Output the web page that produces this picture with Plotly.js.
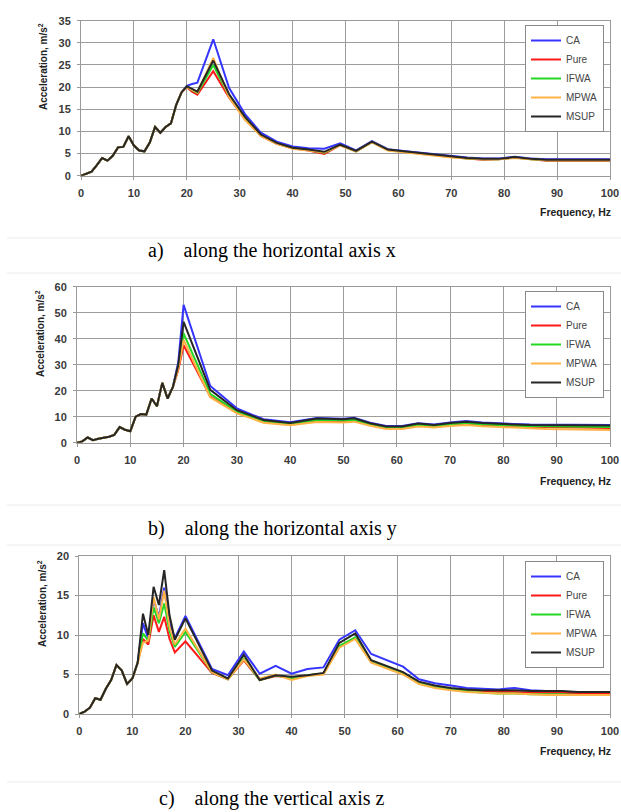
<!DOCTYPE html>
<html>
<head>
<meta charset="utf-8">
<script src="https://cdn.plot.ly/plotly-3.0.1.min.js"></script>
<style>html,body{margin:0;padding:0;background:#fff;}#chart{width:621px;height:812px;}</style>
</head>
<body>
<div id="chart"></div>
<script>
// ---------- data ----------
const seriesNames = ["CA", "Pure", "IFWA", "MPWA", "MSUP"];
const seriesColors = ["#3535ff", "#ff1a1a", "#22d822", "#ffb347", "#262626"];

// a) along the horizontal axis x
const freqA = [0,1,2,3,4,5,6,7,8,9,10,11,12,13,14,15,16,17,18,19,20,21,22,25,28,31,34,37,40,43,46,49,52,55,58,61,64,67,70,73,76,79,82,85,88,91,94,97,100];
const caA   = [0,0.4,0.9,2.4,4.0,3.4,4.5,6.4,6.5,8.9,6.8,5.7,5.5,7.5,11.0,9.7,11.0,11.8,16.0,18.8,20.3,20.7,21.0,30.8,19.8,13.9,9.7,7.7,6.6,6.2,6.1,7.3,5.7,7.8,6.0,5.6,5.2,4.8,4.4,4.1,3.9,3.9,4.3,3.9,3.7,3.7,3.7,3.7,3.7];
const pureA = [0,0.4,0.9,2.4,4.0,3.4,4.5,6.4,6.5,8.9,6.8,5.7,5.5,7.5,11.0,9.7,11.0,11.8,16.0,18.8,20.0,19.0,18.3,23.6,17.6,12.8,9.0,7.2,6.2,5.7,4.9,6.9,5.5,7.6,5.8,5.4,5.0,4.6,4.2,3.9,3.6,3.7,4.1,3.7,3.4,3.4,3.4,3.4,3.4];
const ifwaA = [0,0.4,0.9,2.4,4.0,3.4,4.5,6.4,6.5,8.9,6.8,5.7,5.5,7.5,11.0,9.7,11.0,11.8,16.0,18.8,20.1,19.3,18.7,25.0,18.0,13.0,9.1,7.3,6.2,5.8,5.2,6.9,5.5,7.6,5.8,5.4,5.0,4.6,4.2,3.9,3.7,3.7,4.1,3.7,3.5,3.5,3.5,3.5,3.5];
const mpwaA = [0,0.4,0.9,2.4,4.0,3.4,4.5,6.4,6.5,8.9,6.8,5.7,5.5,7.5,11.0,9.7,11.0,11.8,16.0,18.8,20.0,19.4,18.8,26.6,17.7,12.6,9.0,7.2,6.1,5.7,5.3,6.8,5.5,7.6,5.7,5.3,4.9,4.5,4.1,3.9,3.7,3.7,4.0,3.7,3.5,3.5,3.5,3.5,3.5];
const msupA = [0,0.4,0.9,2.4,4.0,3.4,4.5,6.4,6.5,8.9,6.8,5.7,5.5,7.5,11.0,9.7,11.0,11.8,16.0,18.8,20.2,19.6,19.0,26.0,18.4,13.3,9.3,7.4,6.3,5.9,5.4,7.0,5.6,7.7,5.9,5.5,5.1,4.7,4.3,4.0,3.8,3.8,4.2,3.8,3.6,3.6,3.6,3.6,3.6];

// b) along the horizontal axis y
const freqB = [0,1,2,3,4,5,6,7,8,9,10,11,12,13,14,15,16,17,18,19,20,25,30,35,40,45,50,52,55,58,61,64,67,70,73,76,79,82,85,88,91,94,97,100];
const caB   = [0,0.5,2.0,1.0,1.5,1.8,2.3,3.0,6.0,5.0,4.4,10.0,11.0,10.8,17.0,14.0,23.0,17.0,21.5,31.0,53.0,21.8,13.2,9.0,7.9,9.5,9.2,9.6,7.7,6.4,6.4,7.5,7.0,7.8,8.3,7.8,7.4,7.2,7.0,7.0,6.9,6.8,6.8,6.8];
const pureB = [0,0.5,2.0,1.0,1.5,1.8,2.3,3.0,6.0,5.0,4.4,10.0,11.0,10.8,17.0,14.0,23.0,17.0,21.5,28.0,37.5,17.8,11.6,8.0,7.0,8.4,8.2,8.5,6.9,5.7,5.7,6.6,6.2,6.8,7.2,6.8,6.5,6.3,6.0,6.0,5.9,5.8,5.8,5.7];
const ifwaB = [0,0.5,2.0,1.0,1.5,1.8,2.3,3.0,6.0,5.0,4.4,10.0,11.0,10.8,17.0,14.0,23.0,17.0,21.5,29.0,42.0,18.8,12.0,8.3,7.2,8.7,8.5,8.8,7.1,5.9,5.9,6.9,6.4,7.1,7.5,7.1,6.8,6.6,6.3,6.3,6.2,6.1,6.1,6.0];
const mpwaB = [0,0.5,2.0,1.0,1.5,1.8,2.3,3.0,6.0,5.0,4.4,10.0,11.0,10.8,17.0,14.0,23.0,17.0,21.5,28.5,39.5,17.5,11.3,7.7,6.7,8.0,7.8,8.1,6.5,5.3,5.3,6.2,5.8,6.4,6.8,6.3,6.0,5.7,5.4,5.3,5.2,5.1,5.0,4.9];
const msupB = [0,0.5,2.0,1.0,1.5,1.8,2.3,3.0,6.0,5.0,4.4,10.0,11.0,10.8,17.0,14.0,23.0,17.0,21.5,30.0,46.5,20.3,12.5,8.7,7.6,9.3,9.0,9.4,7.5,6.2,6.2,7.4,6.8,7.6,8.1,7.6,7.2,7.0,6.8,6.8,6.7,6.6,6.6,6.6];

// c) along the vertical axis z
const freqC = [0,1,2,3,4,5,6,7,8,9,10,11,12,13,14,15,16,17,18,20,25,28,31,34,37,40,43,46,49,52,55,58,61,64,67,70,73,76,79,82,85,88,91,94,97,100];
const caC   = [0,0.3,0.8,2.0,1.8,3.2,4.3,6.2,5.5,3.8,4.5,6.5,11.5,9.5,14.5,12.3,16.0,11.5,9.6,12.4,5.7,4.9,7.9,5.1,6.1,5.1,5.7,5.9,9.4,10.6,7.6,6.8,6.0,4.4,3.9,3.6,3.3,3.2,3.1,3.3,3.0,2.9,2.8,2.8,2.7,2.7];
const pureC = [0,0.3,0.8,2.0,1.8,3.2,4.3,6.2,5.5,3.8,4.5,6.5,9.5,8.8,12.5,10.4,12.3,9.5,7.8,9.2,5.2,4.4,6.8,4.3,4.8,4.6,4.9,5.1,8.5,9.6,6.6,5.8,5.1,3.9,3.4,3.1,3.0,2.9,2.8,2.8,2.7,2.7,2.7,2.6,2.6,2.6];
const ifwaC = [0,0.3,0.8,2.0,1.8,3.2,4.3,6.2,5.5,3.8,4.5,6.5,10.2,9.3,13.5,11.5,14.0,10.5,8.5,10.4,5.3,4.4,7.0,4.3,4.9,4.5,4.9,5.1,8.6,9.7,6.6,5.8,5.1,3.9,3.4,3.1,2.9,2.7,2.6,2.6,2.5,2.5,2.5,2.4,2.4,2.4];
const mpwaC = [0,0.3,0.8,2.0,1.8,3.2,4.3,6.2,5.5,3.8,4.5,6.5,9.0,9.3,14.8,12.0,15.6,11.0,8.8,10.8,5.3,4.4,6.9,4.5,5.0,4.3,4.8,5.0,8.4,9.5,6.5,5.7,5.0,3.8,3.3,3.0,2.8,2.7,2.6,2.6,2.5,2.4,2.4,2.4,2.4,2.4];
const msupC = [0,0.3,0.8,2.0,1.8,3.2,4.3,6.2,5.5,3.8,4.5,6.5,12.7,10.0,16.1,13.8,18.2,12.5,9.4,12.1,5.5,4.5,7.5,4.3,4.9,4.7,4.9,5.2,9.0,10.2,6.8,6.0,5.3,4.1,3.6,3.3,3.1,3.0,3.0,3.0,2.9,2.9,2.9,2.8,2.8,2.8];

const yRanges = [[0,35],[0,60],[0,20]];
const yDticks = [5,10,5];
const captions = ["a)\u00a0\u00a0\u00a0\u00a0along the horizontal axis x",
                  "b)\u00a0\u00a0\u00a0\u00a0along the horizontal axis y",
                  "c)\u00a0\u00a0\u00a0\u00a0along the vertical axis z"];

// ---------- build ----------
const panels = [
  {f: freqA, s: [caA, pureA, ifwaA, mpwaA, msupA]},
  {f: freqB, s: [caB, pureB, ifwaB, mpwaB, msupB]},
  {f: freqC, s: [caC, pureC, ifwaC, mpwaC, msupC]}
];
const W = 621, H = 812;
const px = v => v / W;
const py = v => 1 - v / H;

// layout geometry (pixels)
const geo = [
  {x0: 81, x1: 610, yTop: 20.7, yBot: 175.7, leg: [604, 25], ytl: [43, 67], xtl: 212, cap: 250},
  {x0: 77, x1: 610, yTop: 286.7, yBot: 442.7, leg: [604, 291], ytl: [40, 334], xtl: 481, cap: 528},
  {x0: 79.3, x1: 610, yTop: 556, yBot: 714, leg: [604, 561], ytl: [42, 604], xtl: 751, cap: 798}
];

const traces = [];
const layout = {
  width: W, height: H,
  margin: {l: 0, r: 0, t: 0, b: 0},
  paper_bgcolor: "#ffffff", plot_bgcolor: "#ffffff",
  font: {family: "Liberation Sans, Arial, sans-serif", color: "#333"},
  annotations: [], shapes: []
};

const tickFont = {family: "Liberation Sans, Arial, sans-serif", size: 11, color: "#3a3a3a", weight: "bold"};

panels.forEach((p, i) => {
  const n = i === 0 ? "" : String(i + 1);
  const g = geo[i];
  seriesNames.forEach((name, k) => {
    traces.push({
      type: "scatter", mode: "lines",
      x: p.f, y: p.s[k], name: name,
      xaxis: "x" + n, yaxis: "y" + n,
      legend: "legend" + n,
      line: {color: seriesColors[k], width: 2},
      hoverinfo: "skip"
    });
  });
  layout["xaxis" + n] = {
    domain: [px(g.x0), px(g.x1)], anchor: "y" + n,
    range: [0, 100], dtick: 10, tick0: 0,
    showgrid: true, gridcolor: "#9c9c9c", gridwidth: 1,
    showline: true, linecolor: "#999999", linewidth: 1, mirror: true,
    zeroline: false, ticks: "outside", ticklen: 3, tickcolor: "#999999",
    tickfont: tickFont, ticklabelstandoff: 4, fixedrange: true
  };
  layout["yaxis" + n] = {
    domain: [py(g.yBot), py(g.yTop)], anchor: "x" + n,
    range: yRanges[i], dtick: yDticks[i], tick0: 0,
    showgrid: true, gridcolor: "#9c9c9c", gridwidth: 1,
    showline: true, linecolor: "#999999", linewidth: 1, mirror: true,
    zeroline: false, ticks: "outside", ticklen: 3, tickcolor: "#999999",
    tickfont: tickFont, ticklabelstandoff: 4, fixedrange: true
  };
  layout["legend" + n] = {
    x: px(g.leg[0]), y: py(g.leg[1]), xanchor: "right", yanchor: "top",
    xref: "paper", yref: "paper",
    bgcolor: "#ffffff", bordercolor: "#8a8a8a", borderwidth: 1,
    font: {family: "Liberation Sans, Arial, sans-serif", size: 10, color: "#444"},
    traceorder: "normal"
  };
  layout.annotations.push({
    xref: "paper", yref: "paper", x: px(g.ytl[0]), y: py(g.ytl[1]),
    xanchor: "center", yanchor: "middle", textangle: -90, showarrow: false,
    text: "Acceleration, m/s<sup>2</sup>",
    font: {family: "Liberation Sans, Arial, sans-serif", size: 10, color: "#222", weight: "bold"}
  });
  layout.annotations.push({
    xref: "paper", yref: "paper", x: px(613), y: py(g.xtl),
    xanchor: "right", yanchor: "middle", showarrow: false,
    text: "Frequency, Hz",
    font: {family: "Liberation Sans, Arial, sans-serif", size: 10.5, color: "#222", weight: "bold"}
  });
  layout.annotations.push({
    xref: "paper", yref: "paper", x: px(272), y: py(g.cap),
    xanchor: "center", yanchor: "middle", showarrow: false,
    text: captions[i],
    font: {family: "Liberation Serif, Times New Roman, serif", size: 20, color: "#000"}
  });
});

// faint frame lines of the original figure images
[238, 273, 505, 545, 782].forEach(yy => {
  layout.shapes.push({type: "line", xref: "paper", yref: "paper",
    x0: px(7), x1: 1, y0: py(yy), y1: py(yy),
    line: {color: "#ececec", width: 1}});
});

Plotly.newPlot("chart", traces, layout, {displayModeBar: false, staticPlot: true});
</script>
</body>
</html>
